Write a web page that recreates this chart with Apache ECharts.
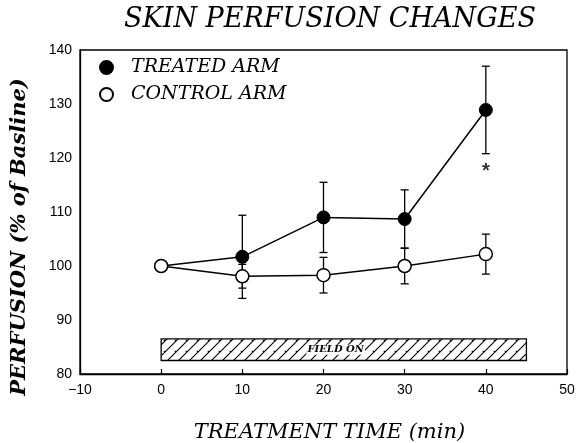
<!DOCTYPE html>
<html><head><meta charset="utf-8">
<script src="https://cdn.jsdelivr.net/npm/echarts@6/dist/echarts.min.js"></script>
<style>html,body{margin:0;padding:0;background:#fff}#c{width:576px;height:443px}</style>
</head><body><div id="c"></div>
<script>
const times = [0, 10, 20, 30, 40];
const treatedMean = [100, 101.7, 109.0, 108.7, 128.9];
const treatedErr = [0, 7.7, 6.5, 5.4, 8.1];
const controlMean = [100, 98.1, 98.3, 100.0, 102.2];
const controlErr = [0, 2.2, 3.3, 3.3, 3.7];
const xTicks = [-10, 0, 10, 20, 30, 40, 50];
const yTicks = [80, 90, 100, 110, 120, 130, 140];
const fieldOn = {start: 0, end: 45, low: 82.5, high: 86.5, label: 'FIELD ON', labelAt: 21.5};
const starPoint = [40, 118.3];

const serif = 'DejaVu Serif';
const black = '#000';

function hatch() {
  const c = document.createElement('canvas');
  c.width = 11; c.height = 11;
  const g = c.getContext('2d');
  g.strokeStyle = '#000'; g.lineWidth = 1.1;
  g.beginPath();
  g.moveTo(-1, 12); g.lineTo(12, -1);
  g.moveTo(-6, 6); g.lineTo(6, -6);
  g.moveTo(5, 16); g.lineTo(16, 5);
  g.stroke();
  return c;
}
const hatchImg = hatch();

function errData(means, errs) {
  return times.map((t, i) => [t, means[i] - errs[i], means[i] + errs[i]]).filter((d, i) => errs[i] > 0);
}
function errRender(params, api) {
  const x = api.value(0);
  const lo = api.coord([x, api.value(1)]);
  const hi = api.coord([x, api.value(2)]);
  const w = 4;
  const st = {stroke: black, lineWidth: 1.3, fill: null};
  return {type: 'group', children: [
    {type: 'line', shape: {x1: lo[0], y1: lo[1], x2: hi[0], y2: hi[1]}, style: st},
    {type: 'line', shape: {x1: lo[0] - w, y1: lo[1], x2: lo[0] + w, y2: lo[1]}, style: st},
    {type: 'line', shape: {x1: hi[0] - w, y1: hi[1], x2: hi[0] + w, y2: hi[1]}, style: st}
  ]};
}

const chart = echarts.init(document.getElementById('c'), null, {renderer: 'canvas'});
chart.setOption({
  animation: false,
  backgroundColor: '#fff',
  title: {
    text: 'SKIN PERFUSION CHANGES',
    left: 325, top: 1, textAlign: 'center',
    textStyle: {fontFamily: serif, fontStyle: 'italic', fontWeight: 'normal', fontSize: 27, color: black}
  },
  legend: {
    orient: 'vertical', left: 99, top: 58, itemWidth: 13, itemHeight: 13, itemGap: 8,
    icon: 'circle', padding: 0,
    data: ['TREATED ARM', 'CONTROL ARM'],
    textStyle: {fontFamily: serif, fontStyle: 'italic', fontSize: 19, lineHeight: 19, color: black, padding: [0, 0, 0, 13]}
  },
  grid: {left: 80, right: 9, top: 50, bottom: 69, containLabel: false, outerBoundsMode: 'none',
    show: true, borderColor: black, borderWidth: 1.3, backgroundColor: 'transparent'},
  xAxis: {
    type: 'value', min: -10, max: 50, interval: 10,
    name: 'TREATMENT TIME (min)', nameLocation: 'middle', nameGap: 48,
    nameTextStyle: {fontFamily: serif, fontStyle: 'italic', fontSize: 21, color: black, padding: [0, 0, 0, 12]},
    axisLine: {show: true, onZero: false, lineStyle: {color: black, width: 1.3}},
    axisTick: {show: true, inside: true, length: 5, lineStyle: {color: black, width: 1.2}},
    axisLabel: {margin: 9, fontFamily: 'Liberation Sans', fontSize: 14, color: black,
      formatter: v => (v < 0 ? '\u2212' + Math.abs(v) : String(v))},
    splitLine: {show: false}
  },
  yAxis: {
    type: 'value', min: 80, max: 140, interval: 10,
    name: 'PERFUSION (% of Basline)', nameLocation: 'middle', nameGap: 50,
    nameTextStyle: {fontFamily: serif, fontStyle: 'italic', fontWeight: 'bold', fontSize: 21, color: black, padding: [0, 50, 0, 0]},
    axisLine: {show: true, onZero: false, lineStyle: {color: black, width: 1.3}},
    axisTick: {show: false},
    axisLabel: {margin: 8, fontFamily: 'Liberation Sans', fontSize: 14, color: black},
    splitLine: {show: false}
  },
  series: [
    {
      name: 'field', type: 'custom', silent: true, z: 1,
      data: [[fieldOn.start, fieldOn.end, fieldOn.low, fieldOn.high, fieldOn.labelAt]],
      renderItem: (params, api) => {
        const p1 = api.coord([api.value(0), api.value(3)]);
        const p2 = api.coord([api.value(1), api.value(2)]);
        const tc = api.coord([api.value(4), (api.value(2) + api.value(3)) / 2]);
        return {type: 'group', children: [
          {type: 'rect', shape: {x: p1[0], y: p1[1], width: p2[0] - p1[0], height: p2[1] - p1[1]},
            style: {fill: {image: hatchImg, repeat: 'repeat'}, stroke: black, lineWidth: 1.3}},
          {type: 'text', x: tc[0], y: tc[1], style: {text: fieldOn.label, align: 'center', verticalAlign: 'middle',
            font: 'italic bold 10px "DejaVu Serif"', fill: black, backgroundColor: '#fff', padding: [0, 1]}}
        ]};
      }
    },
    {name: 'treatedErr', type: 'custom', silent: true, z: 2, data: errData(treatedMean, treatedErr), renderItem: errRender},
    {name: 'controlErr', type: 'custom', silent: true, z: 2, data: errData(controlMean, controlErr), renderItem: errRender},
    {
      name: 'TREATED ARM', type: 'line', z: 3,
      data: times.map((t, i) => [t, treatedMean[i]]),
      symbol: 'circle', symbolSize: 13,
      lineStyle: {color: black, width: 1.5},
      itemStyle: {color: black, borderColor: black, borderWidth: 1}
    },
    {
      name: 'CONTROL ARM', type: 'line', z: 4,
      data: times.map((t, i) => [t, controlMean[i]]),
      symbol: 'circle', symbolSize: 13,
      lineStyle: {color: black, width: 1.5},
      itemStyle: {color: '#fff', borderColor: black, borderWidth: 1.5}
    },
    {
      name: 'star', type: 'scatter', silent: true, z: 5, symbolSize: 1,
      itemStyle: {color: 'transparent'},
      data: [starPoint],
      label: {show: true, position: 'inside', formatter: '*', fontFamily: 'Liberation Sans', fontWeight: 'bold', fontSize: 20, color: black, offset: [0, 4]}
    }
  ]
});
</script></body></html>
